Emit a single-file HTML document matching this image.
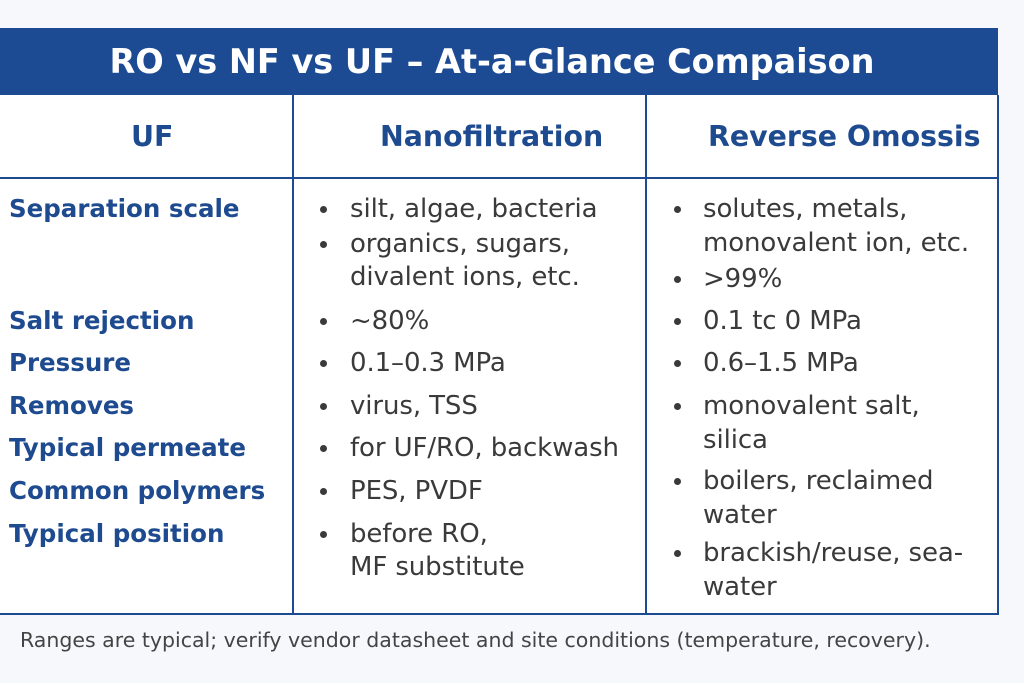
<!DOCTYPE html>
<html><head><meta charset="utf-8"><style>
body{margin:0;width:1024px;height:683px;background:#f6f8fb;position:relative;overflow:hidden;font-family:"DejaVu Sans",sans-serif}
.a{position:absolute;white-space:nowrap;line-height:30px}
.t{color:#3a3a3a;font-size:26px;letter-spacing:-0.1px}
.l{color:#1e4a8f;font-size:24.5px;font-weight:bold;left:9px;letter-spacing:0px}
.b{position:absolute;width:7px;height:7px;border-radius:50%;background:#3a3a3a}
</style></head><body>
<div style="position:absolute;left:0;top:28px;width:998px;height:67px;background:#1c4b93"></div>
<div class="a" style="left:0;width:984px;text-align:center;top:45px;color:#fff;font-size:33.5px;font-weight:bold;line-height:34px">RO vs NF vs UF – At-a-Glance Compaison</div>
<div style="position:absolute;left:0;top:95px;width:997px;height:518px;background:#fff;border-right:2px solid #1c4b93;border-bottom:2px solid #1c4b93"></div>
<div style="position:absolute;left:0;top:177px;width:997px;height:2px;background:#1c4b93"></div>
<div style="position:absolute;left:292px;top:95px;width:2px;height:519px;background:#1c4b93"></div>
<div style="position:absolute;left:645px;top:95px;width:2px;height:519px;background:#1c4b93"></div>
<div class="a" style="left:131px;top:122px;color:#1e4a8f;font-size:28.4px;font-weight:bold">UF</div>
<div class="a" style="left:380px;top:122px;color:#1e4a8f;font-size:28.4px;font-weight:bold">Nanofiltration</div>
<div class="a" style="left:708px;top:122px;color:#1e4a8f;font-size:28.4px;font-weight:bold">Reverse Omossis</div>
<div class="a l" style="top:194px">Separation scale</div>
<div class="a l" style="top:306px">Salt rejection</div>
<div class="a l" style="top:348px">Pressure</div>
<div class="a l" style="top:391px">Removes</div>
<div class="a l" style="top:433px">Typical permeate</div>
<div class="a l" style="top:476px">Common polymers</div>
<div class="a l" style="top:519px">Typical position</div>

<div class="b" style="left:320px;top:206px"></div><div class="a t" style="left:350px;top:194px">silt, algae, bacteria</div>
<div class="b" style="left:320px;top:241px"></div><div class="a t" style="left:350px;top:229px">organics, sugars,</div>
<div class="a t" style="left:350px;top:262px">divalent ions, etc.</div>
<div class="b" style="left:320px;top:318px"></div><div class="a t" style="left:350px;top:306px">~80%</div>
<div class="b" style="left:320px;top:360px"></div><div class="a t" style="left:350px;top:348px">0.1–0.3 MPa</div>
<div class="b" style="left:320px;top:403px"></div><div class="a t" style="left:350px;top:391px">virus, TSS</div>
<div class="b" style="left:320px;top:445px"></div><div class="a t" style="left:350px;top:433px">for UF/RO, backwash</div>
<div class="b" style="left:320px;top:488px"></div><div class="a t" style="left:350px;top:476px">PES, PVDF</div>
<div class="b" style="left:320px;top:531px"></div><div class="a t" style="left:350px;top:519px">before RO,</div>
<div class="a t" style="left:350px;top:552px">MF substitute</div>

<div class="b" style="left:674px;top:206px"></div><div class="a t" style="left:703px;top:194px">solutes, metals,</div>
<div class="a t" style="left:703px;top:228px">monovalent ion, etc.</div>
<div class="b" style="left:674px;top:276px"></div><div class="a t" style="left:703px;top:264px">&gt;99%</div>
<div class="b" style="left:674px;top:318px"></div><div class="a t" style="left:703px;top:306px">0.1 tc 0 MPa</div>
<div class="b" style="left:674px;top:360px"></div><div class="a t" style="left:703px;top:348px">0.6–1.5 MPa</div>
<div class="b" style="left:674px;top:403px"></div><div class="a t" style="left:703px;top:391px">monovalent salt,</div>
<div class="a t" style="left:703px;top:425px">silica</div>
<div class="b" style="left:674px;top:478px"></div><div class="a t" style="left:703px;top:466px">boilers, reclaimed</div>
<div class="a t" style="left:703px;top:500px">water</div>
<div class="b" style="left:674px;top:550px"></div><div class="a t" style="left:703px;top:538px">brackish/reuse, sea-</div>
<div class="a t" style="left:703px;top:572px">water</div>

<div class="a" style="left:20px;top:625px;color:#444;font-size:20.5px">Ranges are typical; verify vendor datasheet and site conditions (temperature, recovery).</div>
</body></html>
